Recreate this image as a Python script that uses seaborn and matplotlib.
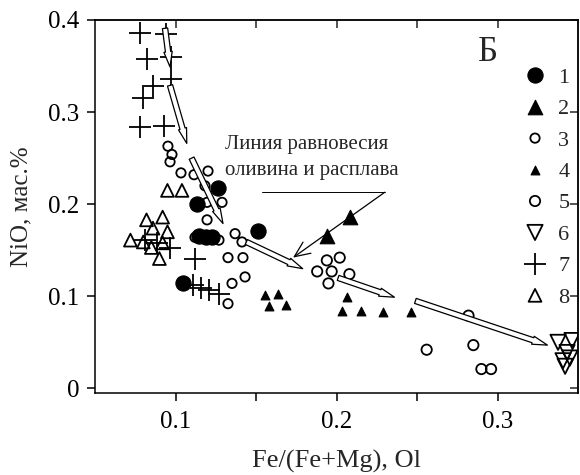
import matplotlib
matplotlib.use("Agg")
import matplotlib.pyplot as plt
import seaborn as sns
import pandas as pd

# ---------------- data ----------------
s1_x = [0.1264, 0.1134, 0.1146, 0.1189, 0.1227, 0.1512, 0.1047]
s1_y = [0.218, 0.200, 0.165, 0.164, 0.164, 0.171, 0.114]

s2_x = [0.2084, 0.1941]
s2_y = [0.186, 0.166]

s3_x = [0.0953, 0.0978, 0.0966, 0.1034, 0.1115, 0.1202, 0.1183, 0.1196, 0.1289,
        0.1196, 0.1121, 0.1270, 0.1370, 0.1413, 0.1326, 0.1419, 0.1432, 0.1351, 0.1326]
s3_y = [0.263, 0.254, 0.246, 0.234, 0.232, 0.236, 0.220, 0.202, 0.202,
        0.183, 0.164, 0.161, 0.168, 0.159, 0.142, 0.142, 0.121, 0.114, 0.092]

s4_x = [0.1556, 0.1637, 0.1580, 0.1686, 0.2065, 0.2034, 0.2152, 0.2289, 0.2463]
s4_y = [0.101, 0.103, 0.090, 0.091, 0.099, 0.084, 0.084, 0.083, 0.083]

s5_x = [0.194, 0.202, 0.188, 0.197, 0.208, 0.195, 0.256, 0.285, 0.290, 0.296, 0.282]
s5_y = [0.139, 0.142, 0.127, 0.127, 0.124, 0.114, 0.042, 0.047, 0.021, 0.021, 0.079]

s6_x = [0.3376, 0.3463, 0.3432, 0.3407, 0.3450, 0.3420]
s6_y = [0.050, 0.052, 0.039, 0.030, 0.033, 0.024]

s7_x = [0.078, 0.094, 0.082, 0.097, 0.086, 0.097, 0.080, 0.078, 0.093,
        0.081, 0.0885, 0.0966, 0.1121, 0.1109, 0.1158, 0.1208, 0.1270]
s7_y = [0.386, 0.385, 0.358, 0.360, 0.328, 0.336, 0.315, 0.284, 0.285,
        0.161, 0.158, 0.152, 0.141, 0.112, 0.109, 0.107, 0.103]

s8_x = [0.095, 0.104, 0.082, 0.092, 0.086, 0.095, 0.072, 0.080, 0.085, 0.092, 0.090]
s8_y = [0.215, 0.215, 0.183, 0.186, 0.174, 0.170, 0.161, 0.159, 0.153, 0.158, 0.141]

series_labels = ["1", "2", "3", "4", "5", "6", "7", "8"]

# trend arrows (start x, start y, end x, end y)
trend_arrows = [
    (0.0935, 0.391, 0.0966, 0.349),
    (0.0966, 0.329, 0.1070, 0.266),
    (0.1100, 0.250, 0.1295, 0.179),
    (0.1440, 0.159, 0.1790, 0.130),
    (0.2010, 0.120, 0.2360, 0.099),
    (0.2490, 0.095, 0.3310, 0.047),
]

x_ticks = [0.10, 0.15, 0.20, 0.25, 0.30]
x_ticklabels = ["0.1", "", "0.2", "", "0.3"]
y_ticks = [0.0, 0.1, 0.2, 0.3, 0.4]
y_ticklabels = ["0", "0.1", "0.2", "0.3", "0.4"]

# ---------------- style ----------------
sns.set_theme(style="ticks")
plt.rcParams["font.family"] = ["Liberation Serif", "DejaVu Serif"]
plt.rcParams["axes.linewidth"] = 1.1

fig = plt.figure(figsize=(5.8, 4.75), dpi=100)
ax = fig.add_axes([95 / 580, 1 - 393 / 475, (578 - 95) / 580, (393 - 20) / 475])

specs = [
    (s1_x, s1_y, dict(marker="o", s=120, color="black", edgecolor="black", linewidth=0.8)),
    (s2_x, s2_y, dict(marker="^", s=110, color="black", edgecolor="black", linewidth=0.8)),
    (s3_x, s3_y, dict(marker="o", s=45, color="black", facecolor="none", edgecolor="black", linewidth=1.3)),
    (s4_x, s4_y, dict(marker="^", s=40, color="black", edgecolor="black", linewidth=0.8)),
    (s5_x, s5_y, dict(marker="o", s=55, color="black", facecolor="none", edgecolor="black", linewidth=1.3)),
    (s6_x, s6_y, dict(marker="v", s=120, color="black", facecolor="none", edgecolor="black", linewidth=1.3)),
    (s7_x, s7_y, dict(marker="+", s=260, color="black", linewidth=1.3)),
    (s8_x, s8_y, dict(marker="^", s=85, color="black", facecolor="none", edgecolor="black", linewidth=1.3)),
]
for (xs, ys, kw), lab in zip(specs, series_labels):
    df = pd.DataFrame({"x": xs, "y": ys})
    sns.scatterplot(data=df, x="x", y="y", ax=ax, label=lab, zorder=3, **kw)

for (x0, y0, x1, y1) in trend_arrows:
    ax.annotate("", xy=(x1, y1), xytext=(x0, y0),
                arrowprops=dict(arrowstyle="simple,head_length=1.1,head_width=0.6,tail_width=0.38",
                                fc="white", ec="black", lw=0.9, mutation_scale=10,
                                shrinkA=0, shrinkB=0), zorder=4)

# equilibrium line annotation
ax.text(0.1307, 0.265, "Линия равновесия", fontsize=15, va="center", ha="left")
ax.text(0.1307, 0.237, "оливина и расплава", fontsize=15, va="center", ha="left")
ax.plot([0.1537, 0.2300], [0.213, 0.213], color="black", lw=0.7)
ax.annotate("", xy=(0.173, 0.142), xytext=(0.2300, 0.213),
            arrowprops=dict(arrowstyle="->,head_length=0.8,head_width=0.35", color="black",
                            lw=0.9, shrinkA=0, shrinkB=0, mutation_scale=14), zorder=2)

ax.text(0.294, 0.365, "Б", fontsize=25, ha="center", va="center")

ax.set_xlim(0.05, 0.35)
ax.set_ylim(-0.005, 0.4)
ax.set_xticks(x_ticks)
ax.set_xticklabels(x_ticklabels)
ax.set_yticks(y_ticks)
ax.set_yticklabels(y_ticklabels)
ax.tick_params(axis="both", direction="out", length=6, width=1.1, labelsize=18, colors="black")
ax.tick_params(axis="x", pad=7)
ax.tick_params(axis="y", pad=5)

top = ax.secondary_xaxis("top")
top.set_xticks(x_ticks)
top.tick_params(direction="in", length=6, width=1.1, labeltop=False)
right = ax.secondary_yaxis("right")
right.set_yticks(y_ticks)
right.tick_params(direction="in", length=6, width=1.1, labelright=False)

for sp in ax.spines.values():
    sp.set_visible(True)
    sp.set_color("black")

ax.set_xlabel("Fe/(Fe+Mg), Ol", fontsize=19)
ax.set_ylabel("NiO, мас.%", fontsize=18)
ax.xaxis.set_label_coords(0.5, -0.152)
ax.yaxis.set_label_coords(-0.13, 0.5)

ax.legend(loc="upper left", bbox_to_anchor=(0.888, 0.879), frameon=False, fontsize=16,
          handlelength=1.0, handleheight=1.0, handletextpad=0.55, labelspacing=0.4,
          borderpad=0, borderaxespad=0, scatterpoints=1)

fig.savefig("out.png", dpi=100, facecolor="white")
